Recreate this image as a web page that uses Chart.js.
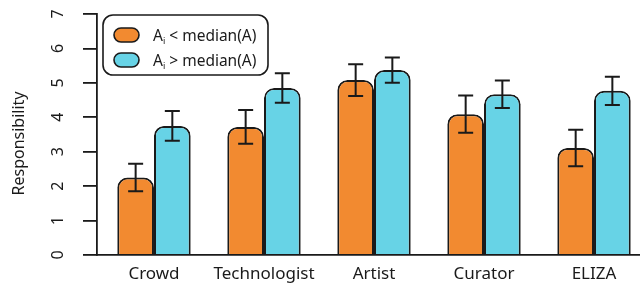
<!DOCTYPE html>
<html>
<head>
<meta charset="utf-8">
<script src="https://cdn.jsdelivr.net/npm/chart.js@4"></script>
<style>
  html, body { margin: 0; padding: 0; background: #fff; }
  #wrap { width: 640px; height: 287px; }
</style>
</head>
<body>
<div id="wrap"><canvas id="chart" width="640" height="287"></canvas></div>
<script>
// data
const categories = ['Crowd', 'Technologist', 'Artist', 'Curator', 'ELIZA'];
const belowMedian = [2.25, 3.72, 5.08, 4.09, 3.11];
const belowErr = [0.40, 0.49, 0.46, 0.54, 0.53];
const aboveMedian = [3.75, 4.85, 5.37, 4.67, 4.77];
const aboveErr = [0.43, 0.43, 0.37, 0.40, 0.41];
const yTicks = [0, 1, 2, 3, 4, 5, 6, 7];
const legendLabels = [['A', 'i', ' < median(A)'], ['A', 'i', ' > median(A)']];

const ORANGE = '#F28A30';
const CYAN = '#67D3E6';
const INK = '#1a1a1a';
const FONT = '"Noto Sans", sans-serif';

function roundRect(ctx, x, y, w, h, r) {
    ctx.beginPath();
    ctx.moveTo(x + r, y);
    ctx.arcTo(x + w, y, x + w, y + h, r);
    ctx.arcTo(x + w, y + h, x, y + h, r);
    ctx.arcTo(x, y + h, x, y, r);
    ctx.arcTo(x, y, x + w, y, r);
    ctx.closePath();
}

const errorBars = {
    id: 'errorBars',
    afterDatasetsDraw(chart) {
        const ctx = chart.ctx;
        const y = chart.scales.y;
        const errs = [belowErr, aboveErr];
        ctx.save();
        ctx.strokeStyle = INK;
        ctx.lineWidth = 2;
        chart.data.datasets.forEach((ds, di) => {
            chart.getDatasetMeta(di).data.forEach((bar, i) => {
                const v = ds.data[i].y;
                const top = y.getPixelForValue(v + errs[di][i]);
                const bot = y.getPixelForValue(v - errs[di][i]);
                ctx.beginPath();
                ctx.moveTo(bar.x, top); ctx.lineTo(bar.x, bot);
                ctx.moveTo(bar.x - 7.5, top); ctx.lineTo(bar.x + 7.5, top);
                ctx.moveTo(bar.x - 7.5, bot); ctx.lineTo(bar.x + 7.5, bot);
                ctx.stroke();
            });
        });
        ctx.restore();
    }
};

const decorations = {
    id: 'decorations',
    afterDraw(chart) {
        const ctx = chart.ctx;
        const y = chart.scales.y;
        ctx.save();
        ctx.fillStyle = INK;
        ctx.textAlign = 'center';
        ctx.textBaseline = 'middle';
        // rotated y tick labels
        ctx.font = '16px ' + FONT;
        yTicks.forEach(t => {
            ctx.save();
            ctx.translate(58, y.getPixelForValue(t));
            ctx.rotate(-Math.PI / 2);
            ctx.fillText(String(t), 0, 0);
            ctx.restore();
        });
        // y title
        ctx.font = '16px ' + FONT;
        ctx.save();
        ctx.translate(19, 143.5);
        ctx.rotate(-Math.PI / 2);
        ctx.fillText('Responsibility', 0, 0);
        ctx.restore();

        // legend
        ctx.lineWidth = 1.6;
        ctx.strokeStyle = INK;
        ctx.fillStyle = '#fff';
        roundRect(ctx, 103, 15, 165, 60, 10);
        ctx.fill();
        ctx.stroke();
        const colors = [ORANGE, CYAN];
        legendLabels.forEach((parts, k) => {
            const cy = 35 + k * 25;
            ctx.fillStyle = colors[k];
            roundRect(ctx, 114, cy - 7, 25, 14, 7);
            ctx.fill();
            ctx.stroke();
            ctx.fillStyle = INK;
            ctx.textAlign = 'left';
            ctx.textBaseline = 'alphabetic';
            let x = 153;
            const base = cy + 5.5;
            ctx.font = '15.5px ' + FONT;
            ctx.fillText(parts[0], x, base);
            x += ctx.measureText(parts[0]).width;
            ctx.font = '9px ' + FONT;
            ctx.fillText(parts[1], x, base + 3);
            x += ctx.measureText(parts[1]).width;
            ctx.font = '15.5px ' + FONT;
            ctx.fillText(parts[2], x, base);
        });
        ctx.restore();
    }
};

new Chart(document.getElementById('chart').getContext('2d'), {
    type: 'bar',
    data: {
        datasets: [
            {
                label: 'below',
                data: categories.map((c, i) => ({ x: i, y: belowMedian[i] })),
                backgroundColor: ORANGE
            },
            {
                label: 'above',
                data: categories.map((c, i) => ({ x: i, y: aboveMedian[i] })),
                backgroundColor: CYAN
            }
        ]
    },
    options: {
        responsive: false,
        animation: false,
        events: [],
        layout: { padding: { top: 14, right: 0, left: 0, bottom: 0 } },
        datasets: {
            bar: {
                borderColor: INK,
                borderWidth: 2,
                borderRadius: { topLeft: 10, topRight: 10, bottomLeft: 0, bottomRight: 0 },
                borderSkipped: 'start',
                categoryPercentage: 0.667,
                barPercentage: 1
            }
        },
        plugins: {
            legend: { display: false },
            tooltip: { enabled: false }
        },
        scales: {
            x: {
                type: 'linear',
                offset: false,
                min: -0.518,
                max: 4.418,
                afterBuildTicks(scale) {
                    scale.ticks = categories.map((c, i) => ({ value: i }));
                },
                afterFit(scale) { scale.height = 32; },
                grid: { display: false, drawTicks: false, offset: false },
                border: { display: true, color: INK, width: 1.8 },
                ticks: {
                    autoSkip: false,
                    maxRotation: 0,
                    padding: 9,
                    color: INK,
                    font: { family: FONT, size: 17 },
                    callback: (v) => categories[v]
                }
            },
            y: {
                min: 0,
                max: 7,
                afterBuildTicks(scale) {
                    scale.ticks = yTicks.map(v => ({ value: v }));
                },
                afterFit(scale) { scale.width = 97; },
                grid: { drawOnChartArea: false, drawTicks: true, tickLength: 14, color: INK, lineWidth: 1.8 },
                border: { display: true, color: INK, width: 1.8 },
                ticks: { display: false }
            }
        }
    },
    plugins: [errorBars, decorations]
});
</script>
</body>
</html>
